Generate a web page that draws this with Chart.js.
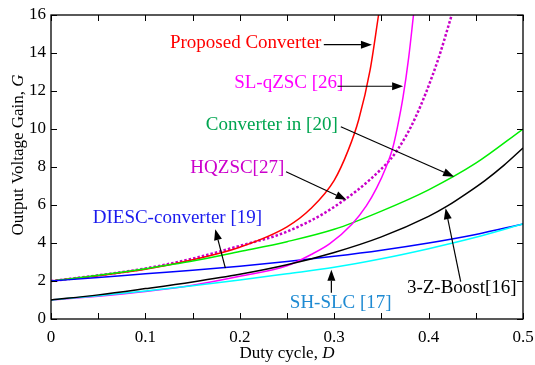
<!DOCTYPE html>
<html>
<head>
<meta charset="utf-8">
<script src="https://cdn.jsdelivr.net/npm/chart.js@4"></script>
<style>
  html, body { margin: 0; padding: 0; background: #fff; }
</style>
</head>
<body>
<canvas id="gain-chart" width="535" height="365"></canvas>
<script>
// duty cycle D / gain G
var proposedD = [0, 0.05, 0.1, 0.15, 0.2, 0.25, 0.275, 0.3, 0.315, 0.326, 0.338, 0.347];
var proposedG = [2, 2.28, 2.62, 3.12, 3.78, 4.85, 5.8, 7.3, 8.9, 10.5, 13.1, 16];

var slqzscD = [0, 0.05, 0.1, 0.15, 0.2, 0.25, 0.275, 0.295, 0.319, 0.334, 0.345, 0.355, 0.362, 0.367, 0.373, 0.379, 0.384];
var slqzscG = [1, 1.2, 1.45, 1.78, 2.25, 2.8, 3.38, 3.95, 5.0, 5.95, 6.9, 8.0, 9.0, 10.1, 11.7, 13.8, 16];

var hqzscD = [0, 0.05, 0.1, 0.15, 0.2, 0.25, 0.3, 0.35, 0.367, 0.386, 0.409, 0.4245];
var hqzscG = [2, 2.3, 2.66, 3.18, 3.85, 4.6, 5.9, 7.9, 8.9, 10.6, 13.5, 16];

var dutyD = [0, 0.05, 0.1, 0.15, 0.2, 0.25, 0.3, 0.35, 0.4, 0.45, 0.5];
var conv20G = [2, 2.3, 2.65, 3.05, 3.55, 4.07, 4.72, 5.68, 6.8, 8.2, 10];
var diescG = [2, 2.18, 2.38, 2.57, 2.78, 3.02, 3.3, 3.62, 4.0, 4.45, 5.0];
var shslcG = [1, 1.23, 1.48, 1.75, 2.05, 2.38, 2.72, 3.17, 3.7, 4.3, 5.0];

var zboostD = [0, 0.05, 0.1, 0.15, 0.2, 0.25, 0.3, 0.35, 0.4, 0.42, 0.44, 0.46, 0.48, 0.5];
var zboostG = [1, 1.27, 1.6, 1.95, 2.35, 2.85, 3.5, 4.32, 5.4, 5.95, 6.6, 7.3, 8.1, 9.0];

var xTicks = [0, 0.1, 0.2, 0.3, 0.4, 0.5];
var xTickLabels = ['0', '0.1', '0.2', '0.3', '0.4', '0.5'];
var xMinorTicks = [0.05, 0.15, 0.25, 0.35, 0.45];
var yTicks = [0, 2, 4, 6, 8, 10, 12, 14, 16];

// annotation text + arrows, placed in data units (D, G)
var notes = [
  { text: 'Proposed Converter', color: '#ff0000', at: [0.126, 14.55], from: [0.289, 14.44], to: [0.340, 14.44] },
  { text: 'SL-qZSC [26]', color: '#ff00ff', at: [0.194, 12.4], from: [0.3035, 12.25], to: [0.373, 12.25] },
  { text: 'Converter in [20]', color: '#00a550', at: [0.164, 10.2], from: [0.307, 10.12], to: [0.427, 7.49] },
  { text: 'HQZSC[27]', color: '#cc00cc', at: [0.1476, 7.93], from: [0.249, 7.75], to: [0.313, 6.27] },
  { text: 'DIESC-converter [19]', color: '#1a1aee', at: [0.0442, 5.3], from: [0.1847, 2.68], to: [0.174, 4.73] },
  { text: 'SH-SLC [17]', color: '#1e8ad2', at: [0.253, 0.84], from: [0.297, 1.38], to: [0.297, 2.59] },
  { text: '3-Z-Boost[16]', color: '#000000', at: [0.377, 1.63], from: [0.434, 1.97], to: [0.418, 5.83] }
];

var serif = "'Liberation Serif', 'Times New Roman', serif";

function pts(xs, ys) {
  return xs.map(function (x, i) { return { x: x, y: ys[i] }; });
}

function line(label, xs, ys, color, extra) {
  var ds = {
    label: label,
    data: pts(xs, ys),
    borderColor: color,
    borderWidth: 1.5,
    pointRadius: 0,
    fill: false,
    cubicInterpolationMode: 'monotone'
  };
  return Object.assign(ds, extra || {});
}

function arrow(ctx, x0, y0, x1, y1) {
  var ang = Math.atan2(y1 - y0, x1 - x0), L = 11, W = 4;
  var bx = x1 - L * Math.cos(ang), by = y1 - L * Math.sin(ang);
  ctx.beginPath();
  ctx.moveTo(x0, y0);
  ctx.lineTo(bx, by);
  ctx.stroke();
  ctx.beginPath();
  ctx.moveTo(x1, y1);
  ctx.lineTo(bx + W * Math.sin(ang), by - W * Math.cos(ang));
  ctx.lineTo(bx - W * Math.sin(ang), by + W * Math.cos(ang));
  ctx.closePath();
  ctx.fill();
}

const framePlugin = {
  id: 'frame',
  afterDraw(chart) {
    const ctx = chart.ctx, a = chart.chartArea;
    const sx = chart.scales.x, sy = chart.scales.y;
    ctx.save();
    ctx.strokeStyle = '#000';
    ctx.lineWidth = 1;

    // inward ticks on all four sides
    ctx.beginPath();
    xTicks.concat(xMinorTicks).forEach(function (v) {
      var px = Math.round(sx.getPixelForValue(v)) + 0.5;
      ctx.moveTo(px, a.bottom); ctx.lineTo(px, a.bottom - 6);
      ctx.moveTo(px, a.top); ctx.lineTo(px, a.top + 6);
    });
    yTicks.forEach(function (v) {
      var py = Math.round(sy.getPixelForValue(v)) + 0.5;
      ctx.moveTo(a.left, py); ctx.lineTo(a.left + 6, py);
      ctx.moveTo(a.right, py); ctx.lineTo(a.right - 6, py);
    });
    ctx.stroke();

    ctx.lineWidth = 1.3;
    ctx.strokeRect(a.left, a.top, a.right - a.left, a.bottom - a.top);

    // annotations
    ctx.font = '19px ' + serif;
    ctx.textBaseline = 'middle';
    ctx.textAlign = 'left';
    notes.forEach(function (n) {
      ctx.fillStyle = n.color;
      ctx.fillText(n.text, sx.getPixelForValue(n.at[0]), sy.getPixelForValue(n.at[1]));
      ctx.strokeStyle = '#000';
      ctx.fillStyle = '#000';
      ctx.lineWidth = 1.2;
      arrow(ctx,
        sx.getPixelForValue(n.from[0]), sy.getPixelForValue(n.from[1]),
        sx.getPixelForValue(n.to[0]), sy.getPixelForValue(n.to[1]));
    });

    // axis titles with italic symbol
    ctx.fillStyle = '#000';
    ctx.textBaseline = 'middle';
    var plain = '17px ' + serif, ital = 'italic 17px ' + serif;
    ctx.font = plain;
    var w1 = ctx.measureText('Duty cycle, ').width;
    ctx.font = ital;
    var w2 = ctx.measureText('D').width;
    var cx = (a.left + a.right) / 2 - (w1 + w2) / 2;
    ctx.font = plain;
    ctx.fillText('Duty cycle, ', cx, 354);
    ctx.font = ital;
    ctx.fillText('D', cx + w1, 354);

    ctx.translate(19, 155);
    ctx.rotate(-Math.PI / 2);
    ctx.font = plain;
    var w3 = ctx.measureText('Output Voltage Gain, ').width;
    ctx.font = ital;
    var w4 = ctx.measureText('G').width;
    var cy = -(w3 + w4) / 2;
    ctx.font = plain;
    ctx.fillText('Output Voltage Gain, ', cy, 0);
    ctx.font = ital;
    ctx.fillText('G', cy + w3, 0);
    ctx.restore();
  }
};

new Chart(document.getElementById('gain-chart'), {
  type: 'line',
  data: {
    datasets: [
      line('3-Z-Boost[16]', zboostD, zboostG, '#000000'),
      line('SH-SLC [17]', dutyD, shslcG, '#00ffff'),
      line('SL-qZSC [26]', slqzscD, slqzscG, '#ff00ff'),
      line('DIESC-converter [19]', dutyD, diescG, '#0000ff'),
      line('Converter in [20]', dutyD, conv20G, '#00ee00'),
      line('Proposed Converter', proposedD, proposedG, '#ff0000'),
      line('HQZSC[27]', hqzscD, hqzscG, '#c800c8', { borderWidth: 2.5, borderDash: [2.5, 2] })
    ]
  },
  options: {
    responsive: false,
    animation: false,
    layout: { padding: { top: 15, right: 12, left: 0, bottom: 0 } },
    plugins: {
      legend: { display: false },
      tooltip: { enabled: false }
    },
    scales: {
      x: {
        type: 'linear',
        min: 0,
        max: 0.5,
        grid: { display: false, drawTicks: false },
        border: { display: false },
        afterBuildTicks: function (scale) {
          scale.ticks = xTicks.map(function (v) { return { value: v }; });
        },
        afterFit: function (scale) {
          scale.height = 46;
          scale.paddingLeft = 0;
          scale.paddingRight = 0;
        },
        ticks: {
          padding: 8,
          color: '#000',
          maxRotation: 0,
          font: { family: serif, size: 17 },
          callback: function (v) {
            var i = xTicks.indexOf(v);
            return i >= 0 ? xTickLabels[i] : '';
          }
        }
      },
      y: {
        min: 0,
        max: 16,
        grid: { display: false, drawTicks: false },
        border: { display: false },
        afterBuildTicks: function (scale) {
          scale.ticks = yTicks.map(function (v) { return { value: v }; });
        },
        afterFit: function (scale) {
          scale.width = 51;
          scale.paddingTop = 0;
          scale.paddingBottom = 0;
        },
        ticks: {
          padding: 5,
          color: '#000',
          font: { family: serif, size: 17 }
        }
      }
    }
  },
  plugins: [framePlugin]
});
</script>
</body>
</html>
